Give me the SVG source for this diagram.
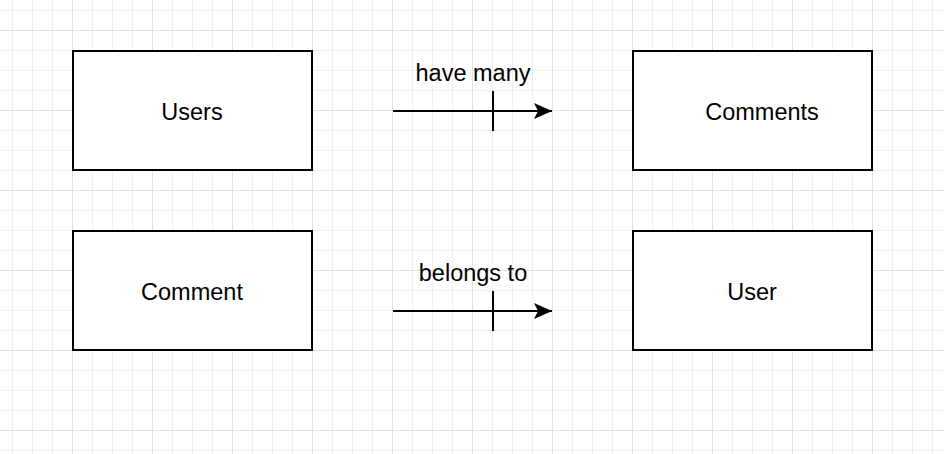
<svg xmlns="http://www.w3.org/2000/svg" width="944" height="454" viewBox="0 0 944 454">
<defs>
<pattern id="minor" x="12" y="10" width="20" height="20" patternUnits="userSpaceOnUse">
<path d="M0 0.5H20M0.5 0V20" fill="none" stroke="#f0f0f0" stroke-width="1"/>
</pattern>
<pattern id="major" x="72" y="30" width="80" height="80" patternUnits="userSpaceOnUse">
<path d="M0 0.5H80M0.5 0V80" fill="none" stroke="#e2e2e2" stroke-width="1"/>
</pattern>
<marker id="arrow" markerWidth="20" markerHeight="20" viewBox="0 0 20 20" refX="18" refY="8" orient="auto" markerUnits="userSpaceOnUse">
<path d="M18 8L0 0L4 8L0 16Z" fill="#000"/>
</marker>
<style>
.box{fill:#fff;stroke:#000;stroke-width:2}
.lbl{font-family:"Liberation Sans",Arial,sans-serif;font-size:23.5px;fill:#000;text-anchor:middle}
.edge{fill:none;stroke:#000;stroke-width:2}
</style>
</defs>
<rect width="944" height="454" fill="#fff"/>
<rect width="944" height="454" fill="url(#minor)"/>
<rect width="944" height="454" fill="url(#major)"/>
<g id="users"><rect class="box" x="73" y="51" width="239" height="119"/><text class="lbl" x="192" y="119.5">Users</text></g>
<g id="comments"><rect class="box" x="633" y="51" width="239" height="119"/><text class="lbl" x="762" y="119.5">Comments</text></g>
<g id="comment"><rect class="box" x="73" y="231" width="239" height="119"/><text class="lbl" x="192" y="299.5">Comment</text></g>
<g id="user"><rect class="box" x="633" y="231" width="239" height="119"/><text class="lbl" x="752" y="299.5">User</text></g>
<g id="connectors">
<path class="edge" d="M393 111H552" marker-end="url(#arrow)"/>
<path class="edge" d="M493 91V131"/>
<text class="lbl" x="473" y="81">have many</text>
<path class="edge" d="M393 311H552" marker-end="url(#arrow)"/>
<path class="edge" d="M493 291V331"/>
<text class="lbl" x="473" y="281">belongs to</text>
</g>
</svg>
